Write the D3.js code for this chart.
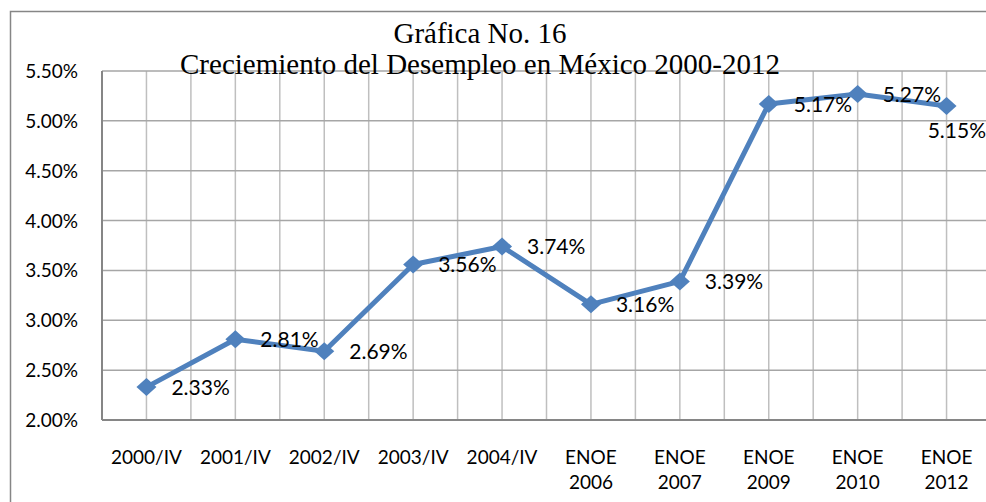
<!DOCTYPE html>
<html>
<head>
<meta charset="utf-8">
<script src="https://cdn.jsdelivr.net/npm/d3@7"></script>
<style>
  body { margin: 0; background: #fff; }
  svg { display: block; }
</style>
</head>
<body>
<svg id="chart" width="986" height="502"></svg>
<script>
const categories = [
  ["2000/IV"], ["2001/IV"], ["2002/IV"], ["2003/IV"], ["2004/IV"],
  ["ENOE", "2006"], ["ENOE", "2007"], ["ENOE", "2009"], ["ENOE", "2010"], ["ENOE", "2012"]
];
const values = [2.33, 2.81, 2.69, 3.56, 3.74, 3.16, 3.39, 5.17, 5.27, 5.15];
const yTicks = [2.0, 2.5, 3.0, 3.5, 4.0, 4.5, 5.0, 5.5];
const titleLines = ["Gráfica No. 16", "Creciemiento del Desempleo en México 2000-2012"];

const width = 986, height = 502;
const plot = { left: 102, right: 991, top: 71, bottom: 420 };
const lineColor = "#4f81bd";
const sans = "Lato, 'Open Sans', sans-serif";

const svg = d3.select("#chart");

// outer chart border (runs off the right and bottom edge)
svg.append("rect")
  .attr("x", 10.5).attr("y", 11.5)
  .attr("width", 1000).attr("height", 600)
  .attr("fill", "none")
  .attr("stroke", "#868686")
  .attr("stroke-width", 1.5);

const x = d3.scaleBand()
  .domain(d3.range(categories.length))
  .range([plot.left, plot.right]);

const y = d3.scaleLinear()
  .domain([2.0, 5.5])
  .range([plot.bottom, plot.top]);

const cx = i => x(i) + x.bandwidth() / 2;

// vertical gridlines at category centers and boundaries
const vLines = [];
categories.forEach((c, i) => { vLines.push(x(i)); vLines.push(cx(i)); });
vLines.push(plot.right);

svg.append("g")
  .selectAll("line")
  .data(vLines)
  .join("line")
  .attr("x1", d => d).attr("x2", d => d)
  .attr("y1", plot.top).attr("y2", plot.bottom)
  .attr("stroke", "#bfbfbf")
  .attr("stroke-width", 1.5);

// horizontal gridlines
svg.append("g")
  .selectAll("line")
  .data(yTicks)
  .join("line")
  .attr("x1", plot.left).attr("x2", plot.right)
  .attr("y1", d => y(d)).attr("y2", d => y(d))
  .attr("stroke", "#a6a6a6")
  .attr("stroke-width", 1.5);

// axes lines
svg.append("line")
  .attr("x1", plot.left).attr("x2", plot.left)
  .attr("y1", plot.top).attr("y2", plot.bottom)
  .attr("stroke", "#868686").attr("stroke-width", 2);
svg.append("line")
  .attr("x1", plot.left).attr("x2", plot.right)
  .attr("y1", plot.bottom).attr("y2", plot.bottom)
  .attr("stroke", "#868686").attr("stroke-width", 2);

// y tick labels
svg.append("g")
  .selectAll("text")
  .data(yTicks)
  .join("text")
  .attr("x", 78)
  .attr("y", d => y(d) + 7)
  .attr("text-anchor", "end")
  .style("font-family", sans)
  .style("font-size", "19px")
  .attr("fill", "#000")
  .text(d => d3.format(".2f")(d) + "%");

// x tick labels
const xl = svg.append("g")
  .selectAll("text")
  .data(categories)
  .join("text")
  .attr("text-anchor", "middle")
  .style("font-family", sans)
  .style("font-size", "19px")
  .attr("fill", "#000");
xl.each(function (d, i) {
  const t = d3.select(this);
  d.forEach((line, k) => {
    t.append("tspan")
      .attr("x", cx(i))
      .attr("y", 464 + k * 25)
      .text(line);
  });
});

// title
const title = svg.append("text")
  .attr("text-anchor", "middle")
  .style("font-family", "'Liberation Serif', 'Times New Roman', serif")
  .style("font-size", "29px")
  .attr("fill", "#000");
titleLines.forEach((t, k) => {
  title.append("tspan").attr("x", 480).attr("y", 43 + k * 31).text(t);
});

// series line
svg.append("path")
  .datum(values)
  .attr("fill", "none")
  .attr("stroke", lineColor)
  .attr("stroke-width", 5)
  .attr("stroke-linejoin", "round")
  .attr("d", d3.line().x((d, i) => cx(i)).y(d => y(d)));

// diamond markers
svg.append("g")
  .selectAll("path")
  .data(values)
  .join("path")
  .attr("transform", (d, i) => `translate(${cx(i)},${y(d)})`)
  .attr("d", "M0,-9L10,0L0,9L-10,0Z")
  .attr("fill", lineColor);

// data labels (right of marker; moved below if it would run off the chart)
svg.append("g")
  .selectAll("text")
  .data(values)
  .join("text")
  .style("font-family", sans)
  .style("font-size", "21px")
  .attr("fill", "#000")
  .text(d => d3.format(".2f")(d) + "%")
  .each(function (d, i) {
    const t = d3.select(this);
    const w = this.getComputedTextLength();
    let lx = cx(i) + 25, ly = y(d) + 8;
    if (lx + w > width) {
      lx = width - w;
      ly = y(d) + 32;
    }
    t.attr("x", lx).attr("y", ly);
  });
</script>
</body>
</html>
